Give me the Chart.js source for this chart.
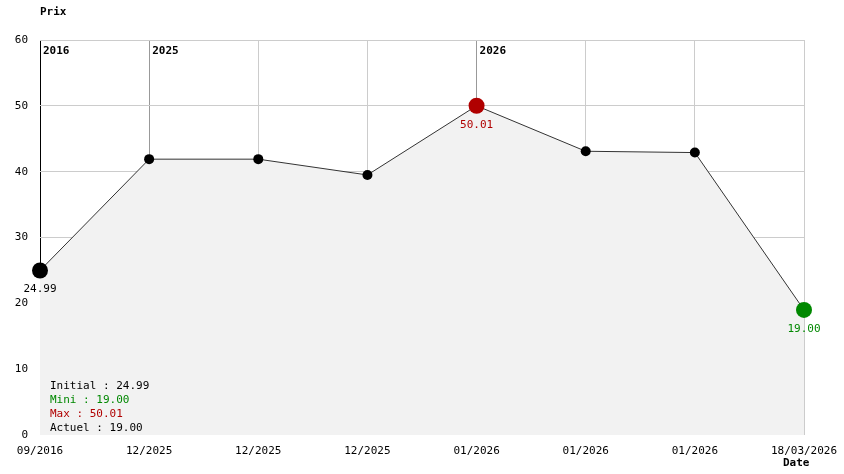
<!DOCTYPE html>
<html>
<head>
<meta charset="utf-8">
<script src="https://cdn.jsdelivr.net/npm/chart.js@4.4.0/dist/chart.umd.min.js"></script>
<style>
  html, body { margin: 0; padding: 0; background: #fff; }
  #wrap { width: 844px; height: 474px; }
</style>
</head>
<body>
<div id="wrap"><canvas id="priceChart" width="844" height="474"></canvas></div>
<script>
// données du graphique
const dateLabels = ["09/2016", "12/2025", "12/2025", "12/2025", "01/2026", "01/2026", "01/2026", "18/03/2026"];
const prices = [24.99, 41.9, 41.9, 39.5, 50.01, 43.1, 42.9, 19.00];
const yearLabels = ["2016", "2025", "2026"];
const yearIndex = [0, 1, 4];
const yTicks = [0, 10, 20, 30, 40, 50, 60];

const MONO = "'DejaVu Sans Mono', 'Liberation Mono', monospace";
const RED = "#b00000";
const GREEN = "#008800";

const initial = prices[0];
const actual = prices[prices.length - 1];
const maxVal = Math.max(...prices);
const minVal = Math.min(...prices);
const maxIdx = prices.indexOf(maxVal);
const minIdx = prices.lastIndexOf(minVal);

// couleur et taille des points
const pointColors = prices.map((v, i) => i === maxIdx ? RED : (i === minIdx ? GREEN : "#000"));
const pointSizes = prices.map((v, i) => (i === 0 || i === maxIdx || i === minIdx) ? 8 : 5);

const textPlugin = {
    id: "textPlugin",
    afterDatasetsDraw(chart) {
        const ctx = chart.ctx;
        const x = chart.scales.x;
        const y = chart.scales.y;
        const area = chart.chartArea;
        ctx.save();

        // années
        ctx.font = "bold 11px " + MONO;
        ctx.fillStyle = "#000";
        ctx.textAlign = "left";
        ctx.textBaseline = "top";
        yearIndex.forEach((idx, k) => {
            ctx.fillText(yearLabels[k], x.getPixelForValue(idx) + 3, area.top + 6);
        });

        // valeurs sous les points
        ctx.font = "11px " + MONO;
        ctx.textAlign = "center";
        ctx.textBaseline = "middle";
        const marks = [[0, "#000"], [maxIdx, RED], [minIdx, GREEN]];
        marks.forEach(([idx, col]) => {
            ctx.fillStyle = col;
            ctx.fillText(prices[idx].toFixed(2), x.getPixelForValue(idx), y.getPixelForValue(prices[idx]) + 19);
        });

        // résumé
        ctx.textAlign = "left";
        const lines = [
            ["Initial : " + initial.toFixed(2), "#000"],
            ["Mini : " + minVal.toFixed(2), GREEN],
            ["Max : " + maxVal.toFixed(2), RED],
            ["Actuel : " + actual.toFixed(2), "#000"]
        ];
        lines.forEach(([t, col], i) => {
            ctx.fillStyle = col;
            ctx.fillText(t, area.left + 10, area.bottom - 49 + i * 14);
        });

        // titres des axes
        ctx.font = "bold 11px " + MONO;
        ctx.fillStyle = "#000";
        ctx.fillText("Prix", 40, 12);
        ctx.fillText("Date", 783, 463);
        ctx.restore();
    }
};

new Chart(document.getElementById("priceChart").getContext("2d"), {
    type: "line",
    data: {
        labels: dateLabels,
        datasets: [{
            data: prices,
            borderColor: "#333",
            borderWidth: 1,
            backgroundColor: "#f2f2f2",
            fill: "origin",
            tension: 0,
            pointRadius: pointSizes,
            pointHoverRadius: pointSizes,
            pointBackgroundColor: pointColors,
            pointBorderColor: pointColors,
            pointBorderWidth: 0,
            clip: false
        }]
    },
    options: {
        responsive: false,
        animation: false,
        layout: { padding: { top: 40, right: 40, bottom: 0, left: 0 } },
        plugins: { legend: { display: false }, tooltip: { enabled: false } },
        scales: {
            x: {
                type: "category",
                offset: false,
                afterFit: s => { s.height = 39; s.paddingLeft = 0; s.paddingRight = 0; },
                grid: {
                    drawTicks: false,
                    color: c => c.index === 0 ? "#000" : (yearIndex.includes(c.index) ? "#999" : "#ccc")
                },
                border: { display: false },
                ticks: {
                    padding: 10,
                    autoSkip: false,
                    maxRotation: 0,
                    color: "#000",
                    font: { family: MONO, size: 11 }
                }
            },
            y: {
                min: 0,
                max: 60,
                afterFit: s => { s.width = 40; s.paddingTop = 0; s.paddingBottom = 0; },
                afterBuildTicks: s => { s.ticks = yTicks.map(v => ({ value: v })); },
                grid: {
                    drawTicks: false,
                    color: c => c.tick && c.tick.value === 0 ? "rgba(0,0,0,0)" : "#ccc"
                },
                border: { display: false },
                ticks: {
                    padding: 12,
                    color: "#000",
                    font: { family: MONO, size: 11 }
                }
            }
        }
    },
    plugins: [textPlugin]
});
</script>
</body>
</html>
